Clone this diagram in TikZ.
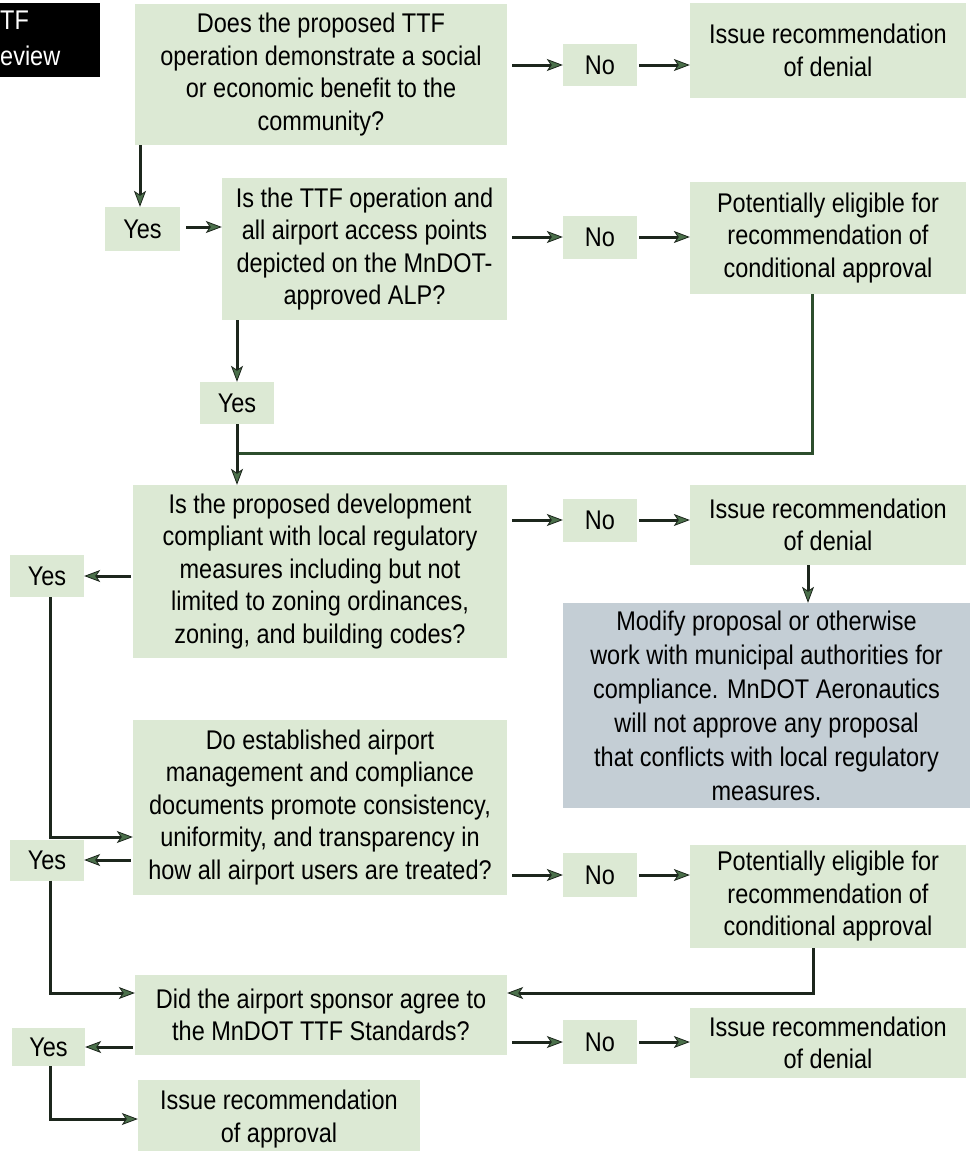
\documentclass[tikz,border=0pt]{standalone}
\usepackage{fontspec}
\setmainfont{Liberation Sans}[FakeStretch=0.87]
\usetikzlibrary{arrows.meta}
\definecolor{boxg}{RGB}{220,233,212}
\definecolor{boxgrey}{RGB}{196,206,213}
\definecolor{lineC}{RGB}{28,38,28}
\definecolor{lineG}{RGB}{45,78,45}
\definecolor{headC}{RGB}{75,112,75}
\begin{document}
\begin{tikzpicture}[x=1pt,y=-1pt,
  box/.style={fill=boxg, inner sep=0pt, align=center, font=\fontsize{27}{32.5}\selectfont},
  arr/.style={draw=lineC, line width=3pt, -{Stealth[length=16pt,width=12pt,inset=4pt,fill=headC,line width=0.8pt]}},
  ln/.style={draw=lineG, line width=3pt}]
\useasboundingbox (0,0) rectangle (973,1151);
% title block
\fill[black] (0,3) rectangle (100,77);
\node[anchor=base west, inner sep=0pt, text=white, font=\fontsize{27}{28}\selectfont] (t1) at (0,29) {TF};
\node[anchor=base west, inner sep=0pt, text=white, font=\fontsize{27}{28}\selectfont] (t2) at (0,65) {eview};
% row 1
\node[box, minimum width=372pt, minimum height=141pt] (q1) at (321,74.5) {Does the proposed TTF\\operation demonstrate a social\\or economic benefit to the\\community?};
\node[box, minimum width=74pt, minimum height=42pt] (no1) at (600,65) {No};
\node[box, minimum width=276pt, minimum height=95pt] (d1) at (828,50.5) {Issue recommendation\\of denial};
% row 2
\node[box, minimum width=75pt, minimum height=44pt] (yes1) at (142.5,229) {Yes};
\node[box, minimum width=285pt, minimum height=142pt] (q2) at (364.5,249) {Is the TTF operation and\\all airport access points\\depicted on the MnDOT-\\approved ALP?};
\node[box, minimum width=74pt, minimum height=43pt] (no2) at (600,237) {No};
\node[box, minimum width=276pt, minimum height=112pt] (d2) at (828,238) {Potentially eligible for\\recommendation of\\conditional approval};
\node[box, minimum width=74pt, minimum height=42pt] (yes2) at (237,403) {Yes};
% row 3
\node[box, minimum width=374pt, minimum height=173pt] (q3) at (320,571.5) {Is the proposed development\\compliant with local regulatory\\measures including but not\\limited to zoning ordinances,\\zoning, and building codes?};
\node[box, minimum width=74pt, minimum height=43pt] (no3) at (600,520) {No};
\node[box, minimum width=276pt, minimum height=80pt] (d3) at (828,525) {Issue recommendation\\of denial};
\node[box, fill=boxgrey, minimum width=407pt, minimum height=205pt, font=\fontsize{27}{34}\selectfont] (grey) at (766.5,705.5) {Modify proposal or otherwise\\work with municipal authorities for\\compliance. MnDOT Aeronautics\\will not approve any proposal\\that conflicts with local regulatory\\measures.};
\node[box, minimum width=74pt, minimum height=42pt] (yes3) at (47,576) {Yes};
% row 4
\node[box, minimum width=374pt, minimum height=175pt] (q4) at (320,807.5) {Do established airport\\management and compliance\\documents promote consistency,\\uniformity, and transparency in\\how all airport users are treated?};
\node[box, minimum width=74pt, minimum height=41pt] (yes4) at (47,860) {Yes};
\node[box, minimum width=74pt, minimum height=44pt] (no4) at (600,875) {No};
\node[box, minimum width=276pt, minimum height=103pt] (d4) at (828,896.5) {Potentially eligible for\\recommendation of\\conditional approval};
% row 5
\node[box, minimum width=372pt, minimum height=80pt] (q5) at (321,1015) {Did the airport sponsor agree to\\the MnDOT TTF Standards?};
\node[box, minimum width=74pt, minimum height=44pt] (no5) at (600,1042) {No};
\node[box, minimum width=276pt, minimum height=70pt] (d5) at (828,1043) {Issue recommendation\\of denial};
\node[box, minimum width=73pt, minimum height=38pt] (yes5) at (48.5,1047) {Yes};
\node[box, minimum width=282pt, minimum height=78pt] (appr) at (279,1119) {Issue recommendation\\of approval};
% connectors row 1
\draw[arr, shorten <=5pt] (no1.west -| q1.east) -- (no1.west);
\draw[arr, shorten <=2pt] (no1.east) -- (d1.west |- no1.east);
\draw[arr] ([xshift=-2.5pt]yes1.north |- q1.south) -- ([xshift=-2.5pt]yes1.north);
\draw[arr, shorten <=6pt] ([yshift=2pt]yes1.east) -- ([yshift=2pt]q2.west |- yes1.east);
% row 2
\draw[arr, shorten <=5pt] (no2.west -| q2.east) -- (no2.west);
\draw[arr, shorten <=2pt] (no2.east) -- (d2.west |- no2.east);
\draw[arr] (yes2.north |- q2.south) -- (yes2.north);
\coordinate (j1) at (238,453);
\draw[ln] ([xshift=-16pt]d2.south) |- (j1);
\draw[arr] (yes2.south) -- (yes2.south |- q3.north);
% row 3
\draw[arr, shorten <=5pt] (no3.west -| q3.east) -- (no3.west);
\draw[arr, shorten <=2pt] (no3.east) -- (d3.west |- no3.east);
\draw[arr] ([xshift=-20pt]d3.south) -- ([xshift=-20pt]d3.south |- grey.north);
\draw[arr, shorten <=2pt] (yes3.east -| q3.west) -- (yes3.east);
\draw[arr] ([xshift=3pt]yes3.south) |- ([yshift=-29.5pt]q4.west);
% row 4
\draw[arr, shorten <=2pt] (yes4.east -| q4.west) -- (yes4.east);
\draw[arr, shorten <=5pt] (no4.west -| q4.east) -- (no4.west);
\draw[arr, shorten <=2pt] (no4.east) -- (d4.west |- no4.east);
\draw[arr] ([xshift=-15pt]d4.south) |- ([yshift=22pt]q5.east);
\draw[arr] ([xshift=3pt]yes4.south) |- ([yshift=22pt]q5.west);
% row 5
\draw[arr, shorten <=5pt] (no5.west -| q5.east) -- (no5.west);
\draw[arr, shorten <=2pt] (no5.east) -- (d5.west |- no5.east);
\draw[arr, shorten <=2pt] (yes5.east -| q5.west) -- (yes5.east);
\draw[arr] ([xshift=1.5pt]yes5.south) |- (appr.west);
\end{tikzpicture}
\end{document}
